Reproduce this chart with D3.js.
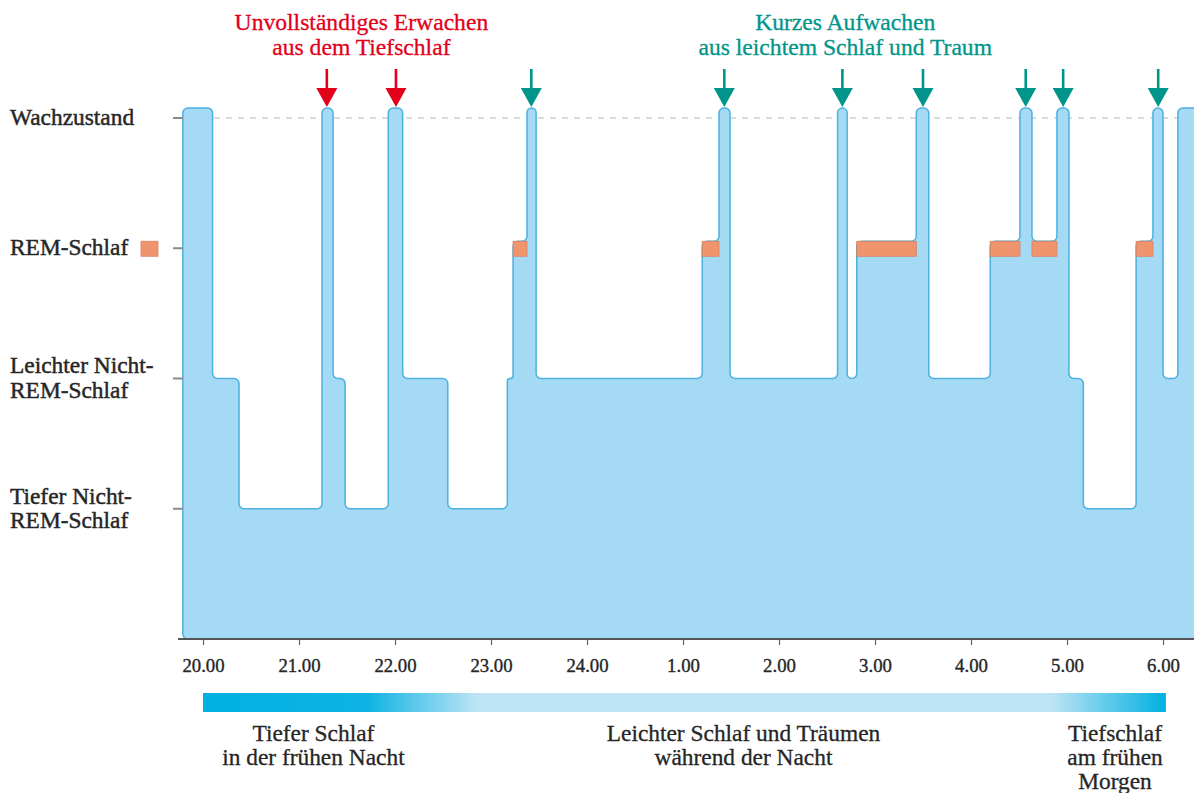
<!DOCTYPE html>
<html><head><meta charset="utf-8">
<script src="https://cdn.jsdelivr.net/npm/d3@7"></script>
<style>
body{margin:0;background:#fff}
svg{display:block}
text{font-family:"Liberation Serif","Times New Roman",serif}
</style>
</head><body>
<svg id="c" width="1194" height="793"></svg>
<script>
// ---- data ----
const stageLevels = [4, 3, 2, 1];
const stageLabels = [["Wachzustand"], ["REM-Schlaf"], ["Leichter Nicht-", "REM-Schlaf"], ["Tiefer Nicht-", "REM-Schlaf"]];
// hypnogram: segment start (hours, >24 = after midnight) and stage level (4 wake, 3 REM, 2 light, 1 deep)
const segStart = [19.79, 20.10, 20.375, 21.24, 21.355, 21.48, 21.93, 22.08, 22.55, 23.17, 23.23, 23.375, 23.47,
  25.20, 25.375, 25.49, 26.61, 26.71, 26.81, 27.43, 27.56, 28.20, 28.51, 28.635, 28.895, 29.02, 29.17,
  29.72, 29.895, 30.00, 30.155];
const segStage = [4, 2, 1, 4, 2, 1, 4, 2, 1, 2, 3, 4, 2,
  3, 4, 2, 4, 2, 3, 4, 2, 3, 4, 3, 4, 2, 1,
  3, 4, 2, 4];
const segEnd = 30.37;
const arrowTimes = [21.29, 22.01, 23.42, 25.43, 26.66, 27.50, 28.57, 28.96, 29.95];
const arrowKinds = ["deep", "deep", "light", "light", "light", "light", "light", "light", "light"];
const tickHours = [20, 21, 22, 23, 24, 25, 26, 27, 28, 29, 30];
const tickLabels = ["20.00", "21.00", "22.00", "23.00", "24.00", "1.00", "2.00", "3.00", "4.00", "5.00", "6.00"];
const noteDeep = ["Unvollständiges Erwachen", "aus dem Tiefschlaf"];
const noteLight = ["Kurzes Aufwachen", "aus leichtem Schlaf und Traum"];
const phaseTexts = [["Tiefer Schlaf", "in der frühen Nacht"], ["Leichter Schlaf und Träumen", "während der Nacht"], ["Tiefschlaf", "am frühen", "Morgen"]];
const phaseCenters = [21.15, 25.63, 29.5];

// ---- setup ----
const svg = d3.select("#c");
const x = d3.scaleLinear().domain([20, 30]).range([203, 1163]);
const y = d3.scaleLinear().domain([0, 4]).range([639, 118]);
const colDeep = "#e2001a", colLight = "#00958a", ink = "#262626";
const topOf = s => s === 4 ? y(4) - 10 : s === 3 ? y(3) - 7 : y(s);

// gradient
const defs = svg.append("defs");
const g = defs.append("linearGradient").attr("id", "phase").attr("x1", "0").attr("x2", "1").attr("y1", "0").attr("y2", "0");
[[0, "#00b0e2"], [0.17, "#0db3e3"], [0.285, "#bfe4f5"], [0.88, "#bfe4f5"], [1, "#00b0e2"]]
  .forEach(([o, c]) => g.append("stop").attr("offset", o).attr("stop-color", c));

// dashed wake line
svg.append("line").attr("x1", 190).attr("x2", 1194).attr("y1", y(4)).attr("y2", y(4))
  .attr("stroke", "#cfcfcf").attr("stroke-width", 1.5).attr("stroke-dasharray", "6,6");

// area outline points
const pts = [];
const y0 = y(0);
pts.push([x(segStart[0]), y0]);
segStart.forEach((t, i) => {
  const t1 = i < segStart.length - 1 ? segStart[i + 1] : segEnd;
  pts.push([x(t), topOf(segStage[i])]);
  pts.push([x(t1), topOf(segStage[i])]);
});
pts.push([x(segEnd), y0]);
const P = pts.filter((p, i) => i === 0 || Math.abs(p[0] - pts[i - 1][0]) > 0.01 || Math.abs(p[1] - pts[i - 1][1]) > 0.01);
const dist = (a, b) => Math.hypot(a[0] - b[0], a[1] - b[1]);
const path = d3.path();
const n = P.length, R = 5;
path.moveTo((P[n - 1][0] + P[0][0]) / 2, (P[n - 1][1] + P[0][1]) / 2);
for (let i = 0; i < n; i++) {
  const prev = P[(i - 1 + n) % n], cur = P[i], nxt = P[(i + 1) % n];
  const r = Math.min(R, dist(prev, cur) / 2, dist(cur, nxt) / 2);
  path.arcTo(cur[0], cur[1], nxt[0], nxt[1], r);
}
path.closePath();
svg.append("path").attr("d", path.toString()).attr("fill", "#a4daf3")
  .attr("stroke", "#4cb0e0").attr("stroke-width", 1.5);

// REM blocks
segStart.forEach((t, i) => {
  if (segStage[i] !== 3) return;
  const t1 = segStart[i + 1];
  svg.append("rect").attr("x", x(t)).attr("width", x(t1) - x(t))
    .attr("y", y(3) - 7).attr("height", 15).attr("fill", "#f0946d")
    .attr("stroke", "#d77f5c").attr("stroke-width", 0.8);
});

// left stage ticks & labels
stageLevels.forEach((lv, i) => {
  svg.append("line").attr("x1", 173).attr("x2", 183).attr("y1", y(lv)).attr("y2", y(lv))
    .attr("stroke", "#8a8a8a").attr("stroke-width", 2);
  const lines = stageLabels[i];
  lines.forEach((l, j) => {
    svg.append("text").attr("x", 10).attr("font-size", 23.4).attr("fill", ink)
      .attr("stroke", ink).attr("stroke-width", 0.45)
      .attr("y", y(lv) + 7 + (j - (lines.length - 1) / 2) * 24.5).text(l);
  });
  if (lv === 3) {
    svg.append("rect").attr("x", 141).attr("y", y(3) - 7).attr("width", 17).attr("height", 15)
      .attr("fill", "#f0946d").attr("stroke", "#d77f5c").attr("stroke-width", 0.8);
  }
});

// x axis
const axis = svg.append("g").attr("transform", `translate(0,${y0})`)
  .call(d3.axisBottom(x).tickValues(tickHours).tickFormat((d, i) => tickLabels[i]).tickSize(6).tickPadding(14));
axis.select(".domain").remove();
axis.selectAll(".tick line").attr("stroke", "#666").attr("stroke-width", 1.2);
axis.selectAll(".tick text").attr("font-size", 18.8).attr("font-family", "Liberation Serif")
  .attr("fill", ink).attr("stroke", ink).attr("stroke-width", 0.35);
svg.append("line").attr("x1", 178).attr("x2", 1194).attr("y1", y0).attr("y2", y0)
  .attr("stroke", "#555").attr("stroke-width", 2.2);

// arrows
arrowTimes.forEach((t, i) => {
  const c = arrowKinds[i] === "deep" ? colDeep : colLight;
  const cx = x(t);
  svg.append("line").attr("x1", cx).attr("x2", cx).attr("y1", 69).attr("y2", 92)
    .attr("stroke", c).attr("stroke-width", 2.6);
  svg.append("path").attr("d", `M${cx - 10.5},88L${cx + 10.5},88L${cx},107Z`).attr("fill", c);
});

// annotations
function note(lines, cx, col) {
  lines.forEach((l, j) => svg.append("text").attr("text-anchor", "middle").attr("font-size", 23.6)
    .attr("fill", col).attr("stroke", col).attr("stroke-width", 0.3)
    .attr("x", cx).attr("y", 30 + j * 25).text(l));
}
note(noteDeep, x(21.65), colDeep);
note(noteLight, x(26.69), colLight);

// phase gradient bar
svg.append("rect").attr("x", x(20)).attr("width", x(30.03) - x(20)).attr("y", 693).attr("height", 19)
  .attr("fill", "url(#phase)");
phaseTexts.forEach((lines, i) => {
  lines.forEach((l, j) => svg.append("text").attr("text-anchor", "middle").attr("font-size", 23.4)
    .attr("fill", ink).attr("stroke", ink).attr("stroke-width", 0.3)
    .attr("x", x(phaseCenters[i])).attr("y", 741 + j * 24).text(l));
});
</script>
</body></html>
